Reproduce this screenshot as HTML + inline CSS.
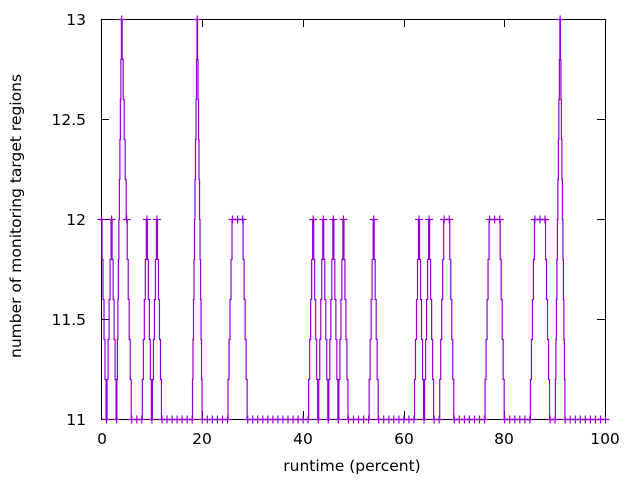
<!DOCTYPE html>
<html><head><meta charset="utf-8"><style>
body{margin:0;background:#fff}
svg{font-family:"DejaVu Sans","Liberation Sans",sans-serif;font-size:15.5px}
</style></head><body>
<svg width="640" height="480" xmlns="http://www.w3.org/2000/svg">
<defs>
<marker id="pl" markerUnits="userSpaceOnUse" markerWidth="10" markerHeight="10" refX="5" refY="5" overflow="visible">
<path d="M1 5h8M5 1v8" stroke="#9400d3" stroke-width="1.2" fill="none"/>
</marker>
</defs>
<g stroke="#000" stroke-width="1" fill="none">
<rect x="101.5" y="19.5" width="504" height="400"/>
<path d="M101 419.5h8M605 419.5h-8M101 319.5h8M605 319.5h-8M101 219.5h8M605 219.5h-8M101 119.5h8M605 119.5h-8M101 19.5h8M605 19.5h-8"/>
<path d="M101.5 419v-8M101.5 19v8M202.5 419v-8M202.5 19v8M303.5 419v-8M303.5 19v8M404.5 419v-8M404.5 19v8M504.5 419v-8M504.5 19v8M605.5 419v-8M605.5 19v8"/>
</g>
<g text-anchor="end">
<text x="86" y="425">11</text><text x="86" y="325">11.5</text><text x="86" y="225">12</text><text x="86" y="125">12.5</text><text x="86" y="25">13</text>
</g>
<g text-anchor="middle">
<text x="102" y="444">0</text><text x="202" y="444">20</text><text x="303" y="444">40</text><text x="404" y="444">60</text><text x="504" y="444">80</text><text x="605" y="444">100</text>
<text x="352" y="471">runtime (percent)</text>
<text transform="translate(21,216) rotate(-90)">number of monitoring target regions</text>
</g>
<path fill="none" stroke="#9400d3" stroke-width="1.2" d="M101.5 219.5
h0.52v40h1v40h1v40h1v40h1v40h0.52
h0.52v-40h1v-40h1v-40h1v-40h1v-40h0.52
h0.52v40h1v40h1v40h1v40h1v40h0.52
h0.27v-40h0.5v-40h0.5v-40h0.5v-40h0.5v-40h0.5v-40h0.5v-40h0.5v-40h0.5v-40h0.5v-40h0.27
h0.52v40h1v40h1v40h1v40h1v40h0.52
h0.52v40h1v40h1v40h1v40h1v40h0.52
h10.08
h0.52v-40h1v-40h1v-40h1v-40h1v-40h0.52
h0.52v40h1v40h1v40h1v40h1v40h0.52
h0.52v-40h1v-40h1v-40h1v-40h1v-40h0.52
h0.52v40h1v40h1v40h1v40h1v40h0.52
h30.24
h0.27v-40h0.5v-40h0.5v-40h0.5v-40h0.5v-40h0.5v-40h0.5v-40h0.5v-40h0.5v-40h0.5v-40h0.27
h0.27v40h0.5v40h0.5v40h0.5v40h0.5v40h0.5v40h0.5v40h0.5v40h0.5v40h0.5v40h0.27
h25.2
h0.52v-40h1v-40h1v-40h1v-40h1v-40h0.52
h10.08
h0.52v40h1v40h1v40h1v40h1v40h0.52
h60.48
h0.52v-40h1v-40h1v-40h1v-40h1v-40h0.52
h0.52v40h1v40h1v40h1v40h1v40h0.52
h0.52v-40h1v-40h1v-40h1v-40h1v-40h0.52
h0.52v40h1v40h1v40h1v40h1v40h0.52
h0.52v-40h1v-40h1v-40h1v-40h1v-40h0.52
h0.52v40h1v40h1v40h1v40h1v40h0.52
h0.52v-40h1v-40h1v-40h1v-40h1v-40h0.52
h0.52v40h1v40h1v40h1v40h1v40h0.52
h20.16
h0.52v-40h1v-40h1v-40h1v-40h1v-40h0.52
h0.52v40h1v40h1v40h1v40h1v40h0.52
h35.28
h0.52v-40h1v-40h1v-40h1v-40h1v-40h0.52
h0.52v40h1v40h1v40h1v40h1v40h0.52
h0.52v-40h1v-40h1v-40h1v-40h1v-40h0.52
h0.52v40h1v40h1v40h1v40h1v40h0.52
h5.04
h0.52v-40h1v-40h1v-40h1v-40h1v-40h0.52
h5.04
h0.52v40h1v40h1v40h1v40h1v40h0.52
h30.24
h0.52v-40h1v-40h1v-40h1v-40h1v-40h0.52
h10.08
h0.52v40h1v40h1v40h1v40h1v40h0.52
h25.2
h0.52v-40h1v-40h1v-40h1v-40h1v-40h0.52
h10.08
h0.52v40h1v40h1v40h1v40h1v40h0.52
h5.04
h0.27v-40h0.5v-40h0.5v-40h0.5v-40h0.5v-40h0.5v-40h0.5v-40h0.5v-40h0.5v-40h0.5v-40h0.27
h0.27v40h0.5v40h0.5v40h0.5v40h0.5v40h0.5v40h0.5v40h0.5v40h0.5v40h0.5v40h0.27
h40.32"/>
<polyline fill="none" stroke="none" marker-start="url(#pl)" marker-mid="url(#pl)" marker-end="url(#pl)" points="
101.5,219.5 106.5,419.5 111.6,219.5 116.6,419.5 121.7,19.5 126.7,219.5 131.7,419.5 136.8,419.5 141.8,419.5 146.9,219.5
151.9,419.5 156.9,219.5 162.0,419.5 167.0,419.5 172.1,419.5 177.1,419.5 182.1,419.5 187.2,419.5 192.2,419.5 197.3,19.5
202.3,419.5 207.3,419.5 212.4,419.5 217.4,419.5 222.5,419.5 227.5,419.5 232.5,219.5 237.6,219.5 242.6,219.5 247.7,419.5
252.7,419.5 257.7,419.5 262.8,419.5 267.8,419.5 272.9,419.5 277.9,419.5 282.9,419.5 288.0,419.5 293.0,419.5 298.1,419.5
303.1,419.5 308.1,419.5 313.2,219.5 318.2,419.5 323.3,219.5 328.3,419.5 333.3,219.5 338.4,419.5 343.4,219.5 348.5,419.5
353.5,419.5 358.5,419.5 363.6,419.5 368.6,419.5 373.7,219.5 378.7,419.5 383.7,419.5 388.8,419.5 393.8,419.5 398.9,419.5
403.9,419.5 408.9,419.5 414.0,419.5 419.0,219.5 424.1,419.5 429.1,219.5 434.1,419.5 439.2,419.5 444.2,219.5 449.3,219.5
454.3,419.5 459.3,419.5 464.4,419.5 469.4,419.5 474.5,419.5 479.5,419.5 484.5,419.5 489.6,219.5 494.6,219.5 499.7,219.5
504.7,419.5 509.7,419.5 514.8,419.5 519.8,419.5 524.9,419.5 529.9,419.5 534.9,219.5 540.0,219.5 545.0,219.5 550.1,419.5
555.1,419.5 560.1,19.5 565.2,419.5 570.2,419.5 575.3,419.5 580.3,419.5 585.3,419.5 590.4,419.5 595.4,419.5 600.5,419.5 605.5,419.5"/>
</svg>
</body></html>
